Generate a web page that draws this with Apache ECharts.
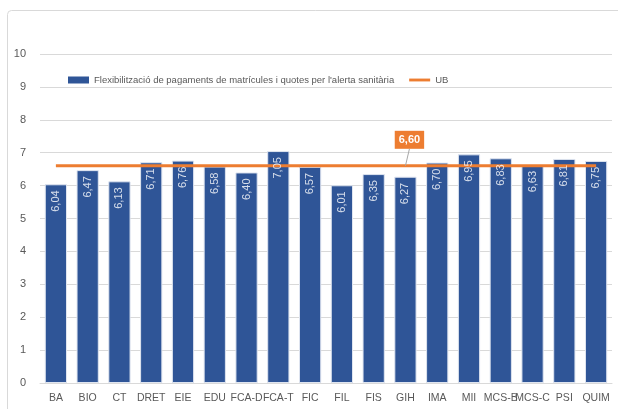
<!DOCTYPE html>
<html>
<head>
<meta charset="utf-8">
<script src="https://cdn.jsdelivr.net/npm/echarts@6/dist/echarts.min.js"></script>
<style>
  html, body { margin: 0; padding: 0; background: #fff; }
  #chart { width: 618px; height: 409px; }
</style>
</head>
<body>
<div id="chart"></div>
<script>
const categories = ['BA', 'BIO', 'CT', 'DRET', 'EIE', 'EDU', 'FCA-D', 'FCA-T', 'FIC', 'FIL', 'FIS', 'GIH', 'IMA', 'MII', 'MCS-B', 'MCS-C', 'PSI', 'QUIM']
const flexValues = [6.04, 6.47, 6.13, 6.71, 6.76, 6.58, 6.40, 7.05, 6.57, 6.01, 6.35, 6.27, 6.70, 6.95, 6.83, 6.63, 6.81, 6.75]
const ubValues = [6.60, 6.60, 6.60, 6.60, 6.60, 6.60, 6.60, 6.60, 6.60, 6.60, 6.60, 6.60, 6.60, 6.60, 6.60, 6.60, 6.60, 6.60]
const ubLabelIndex = 11

const fmt = v => v.toFixed(2).replace('.', ',')
const textColor = '#595959'
const font = '"Liberation Sans", Arial, sans-serif'
const flexName = 'Flexibilització de pagaments de matrícules i quotes per l\'alerta sanitària'

const chart = echarts.init(document.getElementById('chart'))
chart.setOption({
  animation: false,
  textStyle: { fontFamily: font },
  graphic: [{
    type: 'rect',
    shape: { x: 7.5, y: 10.5, width: 620, height: 420, r: 4 },
    style: { fill: 'none', stroke: '#d9d9d9', lineWidth: 1 },
    silent: true
  }],
  legend: {
    top: 70,
    left: 63,
    itemGap: 15,
    itemWidth: 21,
    itemHeight: 7,
    textStyle: { color: textColor, fontSize: 9.5, fontFamily: font },
    data: [
      { name: flexName, icon: 'rect', itemStyle: { borderWidth: 0 } },
      { name: 'UB', icon: 'path://M0,0 L22,0 L22,3 L0,3 Z' }
    ]
  },
  grid: { left: 40, right: 6, top: 54, bottom: 26 },
  xAxis: {
    type: 'category',
    data: categories,
    axisTick: { show: false },
    axisLine: { lineStyle: { color: '#d9d9d9' } },
    axisLabel: { color: textColor, fontSize: 10.5, interval: 0, margin: 10, fontFamily: font }
  },
  yAxis: {
    type: 'value',
    min: 0,
    max: 10,
    interval: 1,
    axisLabel: { color: textColor, fontSize: 11, margin: 14, fontFamily: font },
    splitLine: { lineStyle: { color: '#d9d9d9' } }
  },
  series: [
    {
      name: flexName,
      type: 'bar',
      data: flexValues,
      barCategoryGap: '30%',
      z: 2,
      itemStyle: { color: '#2F5597', borderColor: '#dfe5f0', borderWidth: 1 }
    },
    {
      name: 'UB',
      type: 'line',
      data: ubValues.map((v, i) => i === ubLabelIndex ? {
        value: v,
        label: {
          show: true,
          position: 'top',
          backgroundColor: '#ED7D31',
          color: '#fff',
          fontWeight: 'bold',
          fontSize: 11,
          fontFamily: font,
          padding: [4, 4, 3, 4],
          formatter: p => fmt(p.value)
        }
      } : v),
      symbol: 'circle',
      symbolSize: 0.1,
      showSymbol: true,
      z: 5,
      lineStyle: { color: '#ED7D31', width: 3 },
      itemStyle: { color: '#ED7D31' },
      labelLayout: { dx: 4, dy: -12 },
      labelLine: { show: true, lineStyle: { color: '#a6a6a6', width: 1 } }
    },
    {
      // value labels drawn above the UB line, like the original
      name: 'labels',
      type: 'scatter',
      data: flexValues,
      symbolSize: 0.1,
      z: 10,
      silent: true,
      itemStyle: { color: 'transparent' },
      label: {
        show: true,
        position: 'bottom',
        rotate: 90,
        align: 'right',
        verticalAlign: 'middle',
        distance: 6,
        color: '#fff',
        fontSize: 11,
        fontFamily: font,
        formatter: p => fmt(p.value)
      }
    }
  ]
})
</script>
</body>
</html>
